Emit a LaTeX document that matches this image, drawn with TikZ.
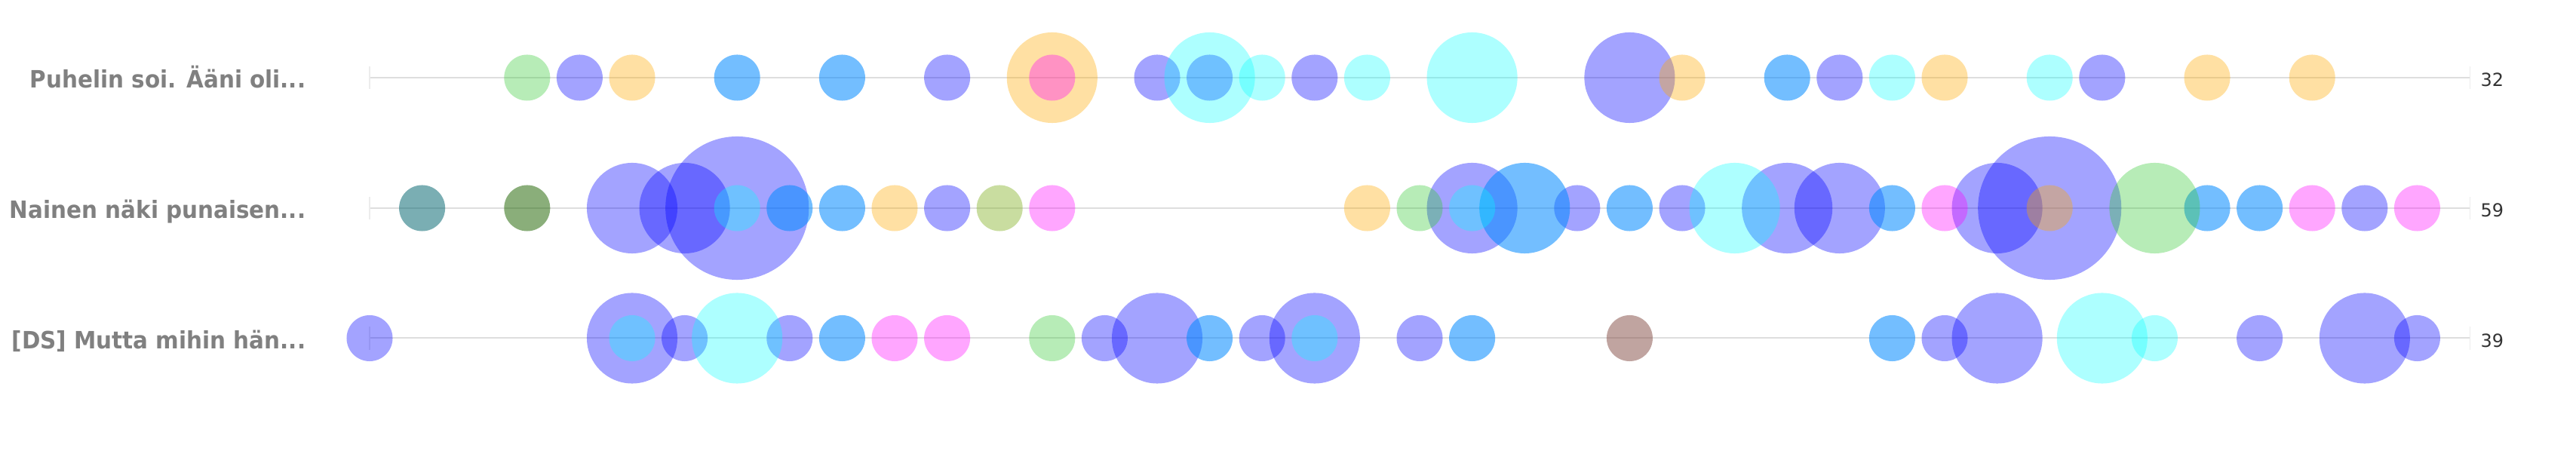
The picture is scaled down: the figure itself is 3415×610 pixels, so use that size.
\documentclass[tikz,border=0pt]{standalone}
\usepackage{fontspec}
\newfontfamily\lblfont[FakeStretch=0.93]{DejaVu Sans}
\newfontfamily\numfont{DejaVu Sans}
\definecolor{cPur}{RGB}{0,0,255}
\definecolor{cSky}{RGB}{0,136,255}
\definecolor{cCya}{RGB}{0,255,255}
\definecolor{cYel}{RGB}{255,170,0}
\definecolor{cPin}{RGB}{255,0,255}
\definecolor{cGre}{RGB}{50,200,50}
\definecolor{cTea}{RGB}{0,100,110}
\definecolor{cDgr}{RGB}{30,100,0}
\definecolor{cOli}{RGB}{135,180,45}
\definecolor{cBro}{RGB}{129,73,65}
\definecolor{rowline}{RGB}{222,222,222}
\definecolor{tickgray}{RGB}{236,236,236}
\definecolor{lblgray}{RGB}{128,128,128}
\definecolor{cntgray}{RGB}{51,51,51}
\tikzset{
  bub/.style={circle, inner sep=0pt, draw=none},
  sm/.style={minimum size=0.61cm},
  md/.style={minimum size=1.2cm},
  lg/.style={minimum size=1.9cm},
  pur/.style={fill=cPur, fill opacity=0.36},
  sky/.style={fill=cSky, fill opacity=0.55},
  cya/.style={fill=cCya, fill opacity=0.32},
  yel/.style={fill=cYel, fill opacity=0.36},
  pin/.style={fill=cPin, fill opacity=0.35},
  gre/.style={fill=cGre, fill opacity=0.35},
  tea/.style={fill=cTea, fill opacity=0.52},
  dgr/.style={fill=cDgr, fill opacity=0.52},
  oli/.style={fill=cOli, fill opacity=0.45},
  bro/.style={fill=cBro, fill opacity=0.5},
  lab/.style={inner sep=0pt, text=lblgray, font=\lblfont\bfseries\fontsize{9pt}{11pt}\selectfont},
  cnt/.style={inner sep=0pt, text=cntgray, font=\numfont\fontsize{6.8pt}{8pt}\selectfont}
}
\begin{document}
\begin{tikzpicture}[x=0.01cm, y=-0.01cm]
  \useasboundingbox (0,0) rectangle (3415,610);

  % axis lines
  \foreach \r/\y in {1/103, 2/276, 3/448.5} {
    \coordinate (a\r) at (490,\y);
    \coordinate (b\r) at (3274,\y);
    \draw[rowline, line width=0.57pt] (a\r) -- (b\r);
    \draw[tickgray, line width=0.3pt] ([yshift=0.15cm]a\r) -- ([yshift=-0.15cm]a\r);
    \draw[tickgray, line width=0.3pt] ([yshift=0.15cm]b\r) -- ([yshift=-0.15cm]b\r);
  }

  \node[lab, anchor=base east] (l1) at (406,117) {Puhelin soi. Ääni oli...};
  \node[lab, anchor=base east] (l2) at (406,290) {Nainen näki punaisen...};
  \node[lab, anchor=base east] (l3) at (406,462.5) {[DS] Mutta mihin hän...};

  \node[cnt, anchor=base west] (n1) at (3288,115) {32};
  \node[cnt, anchor=base west] (n2) at (3288,288) {59};
  \node[cnt, anchor=base west] (n3) at (3288,460.5) {39};

  % bubbles, row 1
  \foreach \k/\c/\s [count=\i] in {4/pur/sm, 11/pur/sm, 15/pur/sm, 16/pur/sm, 18/pur/sm, 24/pur/md,
      28/pur/sm, 33/pur/sm, 7/sky/sm, 9/sky/sm, 27/sky/sm, 16/cya/md, 17/cya/sm, 19/cya/sm,
      21/cya/md, 29/cya/sm, 32/cya/sm, 5/yel/sm, 13/yel/md, 25/yel/sm, 30/yel/sm, 35/yel/sm,
      37/yel/sm, 13/pin/sm, 3/gre/sm}
    \node[bub, \c, \s] (p1\i) at ({490+69.6*\k},103) {};

  % bubbles, row 2
  \foreach \k/\c/\s [count=\i] in {5/pur/md, 6/pur/md, 7/pur/lg, 11/pur/sm, 21/pur/md, 23/pur/sm,
      25/pur/sm, 27/pur/md, 28/pur/md, 31/pur/md, 32/pur/lg, 38/pur/sm, 8/sky/sm, 9/sky/sm,
      22/sky/md, 24/sky/sm, 29/sky/sm, 35/sky/sm, 36/sky/sm, 7/cya/sm, 21/cya/sm, 26/cya/md,
      10/yel/sm, 19/yel/sm, 32/yel/sm, 13/pin/sm, 30/pin/sm, 37/pin/sm, 39/pin/sm, 20/gre/sm,
      34/gre/md, 1/tea/sm, 3/dgr/sm, 12/oli/sm}
    \node[bub, \c, \s] (p2\i) at ({490+69.6*\k},276) {};

  % bubbles, row 3
  \foreach \k/\c/\s [count=\i] in {0/pur/sm, 5/pur/md, 6/pur/sm, 8/pur/sm, 14/pur/sm, 15/pur/md,
      17/pur/sm, 18/pur/md, 20/pur/sm, 30/pur/sm, 31/pur/md, 36/pur/sm, 38/pur/md, 39/pur/sm,
      9/sky/sm, 16/sky/sm, 21/sky/sm, 29/sky/sm, 5/cya/sm, 7/cya/md, 18/cya/sm, 33/cya/md,
      34/cya/sm, 10/pin/sm, 11/pin/sm, 13/gre/sm, 24/bro/sm}
    \node[bub, \c, \s] (p3\i) at ({490+69.6*\k},448.5) {};
\end{tikzpicture}
\end{document}
